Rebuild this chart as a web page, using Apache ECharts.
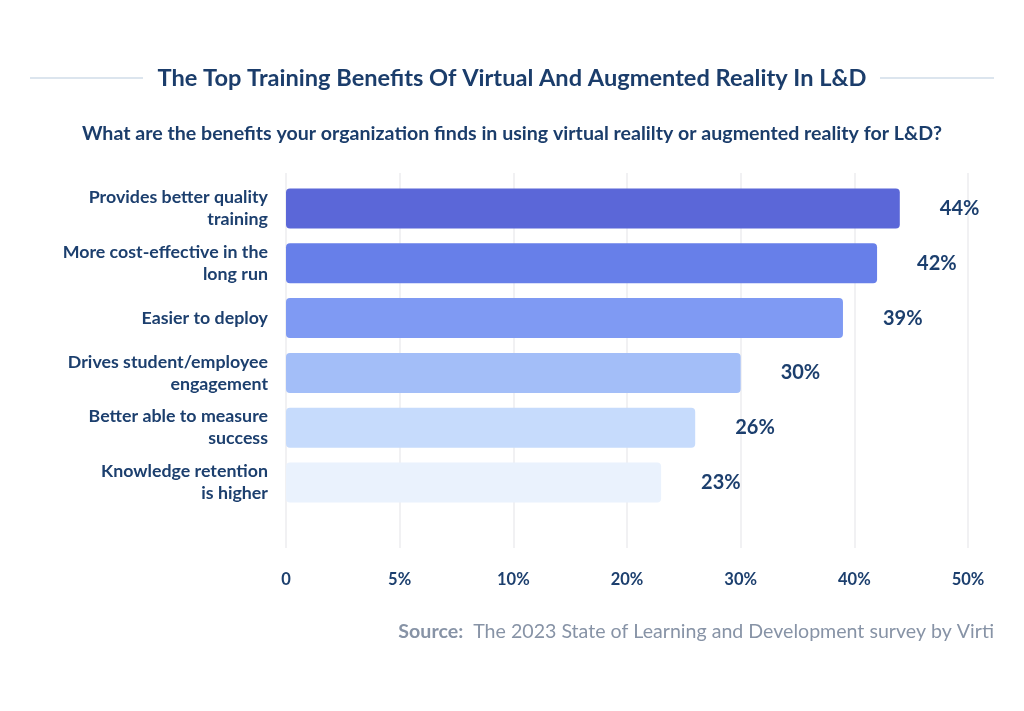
<!DOCTYPE html>
<html>
<head>
<meta charset="utf-8">
<script src="https://cdn.jsdelivr.net/npm/echarts@6/dist/echarts.min.js"></script>
<style>
html,body{margin:0;padding:0;background:#fff;}
#c{width:1024px;height:711px;}
</style>
</head>
<body>
<div id="c"></div>
<script>
const categories = [
  "Provides better quality\ntraining",
  "More cost-effective in the\nlong run",
  "Easier to deploy",
  "Drives student/employee\nengagement",
  "Better able to measure\nsuccess",
  "Knowledge retention\nis higher"
];
const values = [44, 42, 39, 30, 26, 23];
const barColors = ["#5B67D8", "#677FE9", "#7F9AF3", "#A3BEF8", "#C6DBFC", "#EAF2FD"];
const tickLabels = ["0", "5%", "10%", "20%", "30%", "40%", "50%"];
const tickValues = [0, 5, 10, 20, 30, 40, 50];

const titleText = "The Top Training Benefits Of Virtual And Augmented Reality In L&D";
const subtitleText = "What are the benefits your organization finds in using virtual realilty or augmented reality for L&D?";
const sourceLabel = "Source:";
const sourceText = "The 2023 State of Learning and Development survey by Virti";

// The axis is drawn with evenly spaced ticks at 0, 5%, 10%, 20%, 30%, 40%, 50%.
// Map a percentage onto that piecewise scale (one axis unit per tick step = 10).
function axisPos(v) {
  for (let i = 1; i < tickValues.length; i++) {
    if (v <= tickValues[i]) {
      const a = tickValues[i - 1], b = tickValues[i];
      return (i - 1) * 10 + (v - a) / (b - a) * 10;
    }
  }
  return (tickValues.length - 1) * 10;
}

const navy = "#1c3f6e";
const font = "Lato";

const chart = echarts.init(document.getElementById('c'), null, {renderer: 'canvas'});
const maxPos = (tickLabels.length - 1) * 10;

chart.setOption({
  backgroundColor: "#ffffff",
  animation: false,
  textStyle: {fontFamily: font},
  grid: [
    {left: 286, right: 56, top: 181, height: 329, containLabel: false},
    {left: 286, right: 56, top: 173, height: 375, containLabel: false}
  ],
  xAxis: [
    {
      gridIndex: 0, type: 'value', min: 0, max: maxPos, interval: 10,
      axisLine: {show: false}, axisTick: {show: false}, axisLabel: {show: false},
      splitLine: {show: false}
    },
    {
      gridIndex: 1, type: 'value', min: 0, max: maxPos, interval: 10,
      axisLine: {show: false}, axisTick: {show: false},
      splitLine: {show: true, lineStyle: {color: "#f1f1f3", width: 2}},
      axisLabel: {
        show: true, margin: 23, color: navy, fontFamily: font, fontWeight: 'bold', fontSize: 16.5,
        formatter: function (v) { return tickLabels[Math.round(v / 10)]; }
      }
    }
  ],
  yAxis: [
    {
      gridIndex: 0, type: 'category', data: categories, inverse: true,
      axisLine: {show: false}, axisTick: {show: false}, splitLine: {show: false},
      axisLabel: {
        margin: 18, color: navy, fontFamily: font, fontWeight: 'bold', fontSize: 17.8,
        lineHeight: 22, align: 'right'
      }
    },
    {
      gridIndex: 1, type: 'category', data: categories, show: false
    }
  ],
  series: [{
    type: 'bar',
    xAxisIndex: 0, yAxisIndex: 0,
    barWidth: 40,
    data: values.map((v, i) => ({
      value: axisPos(v),
      itemStyle: {color: barColors[i], borderRadius: 4}
    })),
    label: {
      show: true, position: 'right', distance: 40,
      color: navy, fontFamily: font, fontWeight: 'bold', fontSize: 20,
      formatter: function (p) { return values[p.dataIndex] + '%'; }
    }
  }],
  graphic: [
    {type: 'line', shape: {x1: 30, y1: 78, x2: 143, y2: 78}, style: {stroke: "#dce5ee", lineWidth: 2}},
    {type: 'line', shape: {x1: 880, y1: 78, x2: 994, y2: 78}, style: {stroke: "#dce5ee", lineWidth: 2}},
    {type: 'text', left: 'center', top: 66, style: {
      text: titleText, fill: "#1b3d6b", font: "bold 23.6px Lato"
    }},
    {type: 'text', left: 'center', top: 124, style: {
      text: subtitleText, fill: "#1b3d6b", font: "bold 19.6px Lato"
    }},
    {type: 'text', right: 30, top: 622, style: {
      text: "{b|" + sourceLabel + "}  " + sourceText,
      fill: "#8793a6", font: "19.6px Lato",
      rich: {b: {fontWeight: 'bold', fontSize: 19.6, fontFamily: font, fill: "#8793a6"}}
    }}
  ]
});
</script>
</body>
</html>
